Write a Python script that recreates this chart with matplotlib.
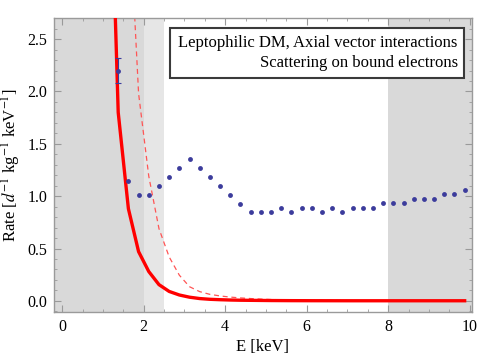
import numpy as np
import matplotlib
matplotlib.use("Agg")
import matplotlib.pyplot as plt
from matplotlib.ticker import MultipleLocator, FormatStrFormatter
from matplotlib.patches import Rectangle

plt.rcParams['font.family'] = 'serif'
plt.rcParams['font.serif'] = ['Liberation Serif', 'DejaVu Serif']
plt.rcParams['mathtext.fontset'] = 'stix'

# dados
E_dados = [1.375, 1.625, 1.875, 2.125, 2.375, 2.625, 2.875, 3.125, 3.375, 3.625,
           3.875, 4.125, 4.375, 4.625, 4.875, 5.125, 5.375, 5.625, 5.875, 6.125,
           6.375, 6.625, 6.875, 7.125, 7.375, 7.625, 7.875, 8.125, 8.375, 8.625,
           8.875, 9.125, 9.375, 9.625, 9.875]
taxa_dados = [2.20, 1.145, 1.013, 1.013, 1.10, 1.186, 1.269, 1.355, 1.269, 1.186,
              1.10, 1.013, 0.927, 0.845, 0.845, 0.845, 0.889, 0.845, 0.889, 0.889,
              0.845, 0.889, 0.845, 0.889, 0.889, 0.889, 0.93, 0.93, 0.93, 0.972,
              0.972, 0.972, 1.017, 1.017, 1.058]
erro_primeiro = 0.12

E_modelo = [1.125, 1.375, 1.625, 1.875, 2.125, 2.375, 2.625, 2.875, 3.125, 3.375,
            3.625, 3.875, 4.125, 4.375, 4.625, 4.875, 5.125, 5.625, 6.125, 7.125,
            8.125, 9.125, 9.875]
taxa_solida = [5.0, 1.80, 0.88, 0.47, 0.28, 0.155, 0.09, 0.056, 0.035, 0.022,
               0.015, 0.011, 0.008, 0.006, 0.005, 0.004, 0.003, 0.002, 0.0015, 0.001,
               0.001, 0.001, 0.001]
taxa_tracejada = [12.0, 7.0, 3.9, 1.98, 1.19, 0.69, 0.42, 0.245, 0.135, 0.088,
                  0.062, 0.047, 0.036, 0.028, 0.022, 0.017, 0.013, 0.008, 0.005, 0.003,
                  0.002, 0.0015, 0.001]

regioes_escuras = [(-0.5, 2.0), (8.0, 10.5)]
regiao_clara = (2.0, 2.5)

fig = plt.figure(figsize=(4.78, 3.56), dpi=100)
ax = fig.add_axes([0.113, 0.124, 0.874, 0.825])

for a, b in regioes_escuras:
    ax.axvspan(a, b, color='#d9d9d9', lw=0, zorder=0)
ax.axvspan(regiao_clara[0], regiao_clara[1], color='#e6e6e6', lw=0, zorder=0)

ax.plot(E_modelo, taxa_tracejada, color='#ff5555', lw=0.9, ls=(0, (4, 3)), zorder=2)
ax.plot(E_modelo, taxa_solida, color='#ff0000', lw=2.4, zorder=3)

cor_azul = '#3c3c9c'
ax.plot(E_dados, taxa_dados, 'o', color=cor_azul, ms=3.5, mec='none', zorder=4)
ax.errorbar([E_dados[0]], [taxa_dados[0]], yerr=[erro_primeiro], fmt='none',
            ecolor=cor_azul, elinewidth=0.8, capsize=2.0, capthick=0.8, zorder=4)

ax.set_xlim(-0.2, 10.05)
ax.set_ylim(-0.105, 2.7)
ax.xaxis.set_major_locator(MultipleLocator(2))
ax.xaxis.set_minor_locator(MultipleLocator(0.5))
ax.yaxis.set_major_locator(MultipleLocator(0.5))
ax.yaxis.set_minor_locator(MultipleLocator(0.1))
ax.yaxis.set_major_formatter(FormatStrFormatter('%.1f'))

cinza = '#9a9a9a'
for s in ax.spines.values():
    s.set_color(cinza)
    s.set_linewidth(1.0)
ax.tick_params(which='both', direction='in', top=True, right=True, color=cinza,
               labelsize=11.5, labelcolor='black')
ax.tick_params(which='major', length=5, width=0.8, pad=5)
ax.tick_params(which='minor', length=2.5, width=0.6)

ax.set_xlabel('E [keV]', fontsize=12, labelpad=3)
ax.set_ylabel(r'Rate [$d^{-1}$ kg$^{-1}$ keV$^{-1}$]', fontsize=12, labelpad=3)

# caixa de legenda
caixa = Rectangle((0.2775, 0.796), 0.7035, 0.170, transform=ax.transAxes,
                  fc='white', ec='#3a3a3a', lw=1.5, zorder=6)
ax.add_patch(caixa)
ax.text(0.9665, 0.916, 'Leptophilic DM, Axial vector interactions',
        transform=ax.transAxes, ha='right', va='center', fontsize=12, zorder=7)
ax.text(0.9665, 0.849, 'Scattering on bound electrons',
        transform=ax.transAxes, ha='right', va='center', fontsize=12, zorder=7)

fig.savefig('out.png', dpi=100)
